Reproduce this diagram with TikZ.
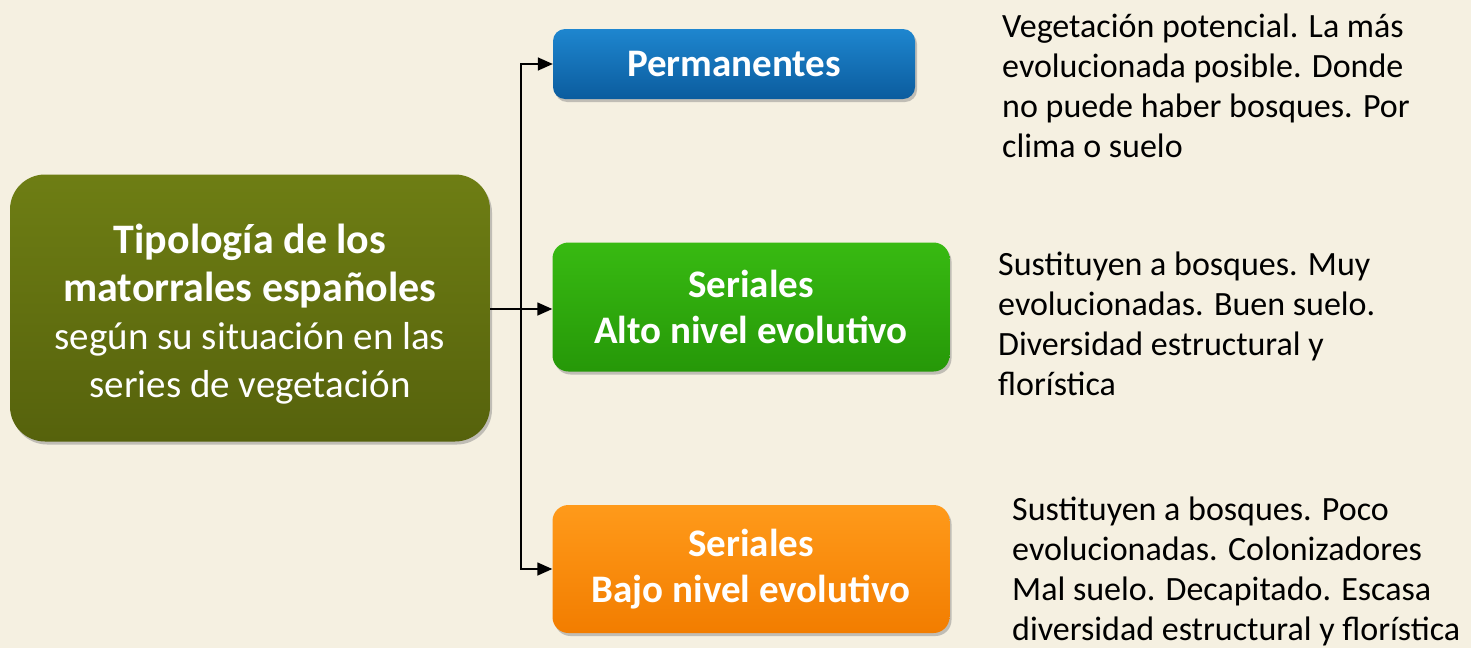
\documentclass[tikz,border=0pt]{standalone}
\usepackage{fontspec}
\setmainfont{Carlito}
\usetikzlibrary{shadows,arrows.meta}

\definecolor{fondo}{HTML}{F5F0E1}
\definecolor{olivaA}{HTML}{6E7E14}
\definecolor{olivaB}{HTML}{56620C}
\definecolor{azulA}{HTML}{1E86CF}
\definecolor{azulB}{HTML}{0B5C9E}
\definecolor{verdeA}{HTML}{38BA12}
\definecolor{verdeB}{HTML}{269808}
\definecolor{naranjaA}{HTML}{FF9A1A}
\definecolor{naranjaB}{HTML}{F27D00}

\begin{document}
\begin{tikzpicture}[x=1pt,y=-1pt,
  caja/.style={rounded corners=16pt, align=center, text=white, inner sep=0pt,
    font=\fontsize{39}{46}\selectfont\bfseries,
    drop shadow={shadow xshift=2pt,shadow yshift=-3pt,opacity=0.45}},
  nota/.style={anchor=north west, inner sep=0pt, align=left,
    font=\fontsize{34}{40}\selectfont},
  flecha/.style={-{Triangle[length=15pt,width=13pt]}, line width=1.5pt}]
 	\fill[fondo] (0,0) rectangle (1471,648);
 	\useasboundingbox (0,0) rectangle (1471,648);
 	% cajas
 	\node[caja, rounded corners=35pt, minimum width=480pt, minimum height=267pt,
 	  top color=olivaA, bottom color=olivaB, font=\fontsize{39}{48}\selectfont]
 	  (tipologia) at (250,308)
 	  {\rule{0pt}{42pt}{\fontsize{42}{48}\selectfont\bfseries Tipología de los}\\{\fontsize{42}{48}\selectfont\bfseries matorrales españoles}\\según su situación en las\\series de vegetación};
 	\node[caja, rounded corners=12pt, minimum width=362pt, minimum height=70pt,
 	  top color=azulA, bottom color=azulB] (permanentes) at (734,64) {Permanentes};
 	\node[caja, minimum width=397pt, minimum height=129pt,
 	  top color=verdeA, bottom color=verdeB] (altonivel) at (751,307) {Seriales\\Alto nivel evolutivo};
 	\node[caja, minimum width=397pt, minimum height=128pt,
 	  top color=naranjaA, bottom color=naranjaB] (bajonivel) at (751,569) {Seriales\\Bajo nivel evolutivo};
 	% textos
 	\node[nota] (notaperm) at (1002,14) {Vegetación potencial. La más\\evolucionada posible. Donde\\no puede haber bosques. Por\\clima o suelo};
 	\node[nota] (notaalto) at (998,252) {Sustituyen a bosques. Muy\\evolucionadas. Buen suelo.\\Diversidad estructural y\\florística};
 	\node[nota] (notabajo) at (1012,497) {Sustituyen a bosques. Poco\\evolucionadas. Colonizadores\\Mal suelo. Decapitado. Escasa\\diversidad estructural y florística};
 	% conectores
 	\coordinate (rama) at (521,309);
 	\draw[line width=2pt] (tipologia.east |- rama) -- (rama);
 	\draw[flecha] (rama) |- (permanentes.west);
 	\draw[flecha] (rama) -- (altonivel.west |- rama);
 	\draw[flecha] (rama) |- (bajonivel.west);
\end{tikzpicture}
\end{document}
